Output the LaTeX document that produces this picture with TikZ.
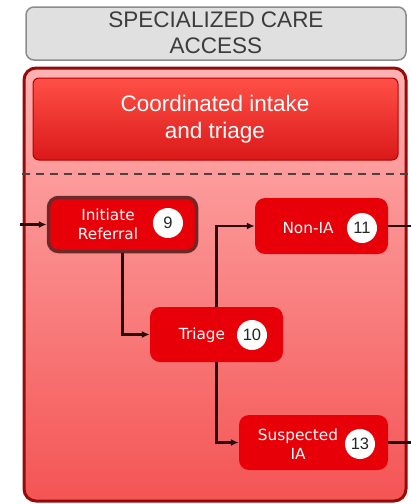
\documentclass[tikz,border=0pt]{standalone}
\usepackage{fontspec}
\setmainfont{Liberation Sans}
\newfontfamily\verd{DejaVu Sans}
\usetikzlibrary{arrows.meta}
\definecolor{nodered}{RGB}{232,0,8}
\definecolor{lanefill top}{RGB}{255,178,178}
\definecolor{lanefill bot}{RGB}{244,84,84}
\definecolor{laneborder}{RGB}{150,10,10}
\definecolor{refborder}{RGB}{110,40,40}
\definecolor{wire}{RGB}{40,12,12}
\definecolor{graytext}{RGB}{60,60,60}
\tikzset{
  stepbox/.style={fill=nodered, rounded corners=10pt, inner sep=0pt},
  boxtext/.style={text=white, font=\verd\fontsize{15.3}{19}\selectfont, align=center, inner sep=0pt},
  numdisc/.style={circle, fill=white, minimum size=30pt, inner sep=0pt,
    font=\fontsize{16.5}{16.5}\selectfont, text=black!85},
  conn/.style={draw=wire, line width=2.1pt, -{Latex[length=8pt,width=7pt]}},
  wireout/.style={draw=wire, line width=2.1pt}
}
\begin{document}
\begin{tikzpicture}[x=1pt,y=-1pt]
\useasboundingbox (0,0) rectangle (411,504);

% lane title
\draw[draw=black!45, fill=black!12, line width=1.5pt, rounded corners=8pt]
  (26,7) rectangle (406,60);
\node[text=graytext, font=\fontsize{22.5}{26}\selectfont, align=center] (title) at (216,33)
  {SPECIALIZED CARE\\ACCESS};

% lane body
\path[draw=laneborder, line width=3pt, rounded corners=12pt,
  top color=lanefill top, bottom color=lanefill bot]
  (24,68) rectangle (406,501);

% phase header
\path[draw=red!70!black, line width=1pt, rounded corners=6pt,
  top color={rgb,255:red,255;green,80;blue,70}, middle color={rgb,255:red,236;green,0;blue,20},
  bottom color={rgb,255:red,218;green,25;blue,25}]
  (33,78) rectangle (398,160);
\node[text=white, font=\fontsize{22.5}{27}\selectfont, align=center] (hdr) at (215,119)
  {Coordinated intake\\and triage};

% phase separator
\draw[draw=wire!80, line width=2pt, dash pattern=on 8pt off 6pt] (22,174) -- (411,174);

% process steps
\node[stepbox, draw=refborder, line width=3.5pt, minimum width=148pt, minimum height=54pt]
  (ref) at (122.5,224.5) {};
\node[boxtext] (reft) at (108,224) {Initiate\\Referral};
\node[numdisc] (n9) at (168,223) {9};

\node[stepbox, minimum width=133pt, minimum height=56pt] (nonia) at (321.5,226) {};
\node[boxtext] (noniat) at (308,228) {Non-IA};
\node[numdisc] (n11) at (362,228) {11};

\node[stepbox, minimum width=133pt, minimum height=55pt] (tri) at (216.5,334.5) {};
\node[boxtext] (trit) at (202,335) {Triage};
\node[numdisc] (n10) at (252,335) {10};

\node[stepbox, minimum width=149pt, minimum height=55pt] (sia) at (313.5,442.5) {};
\node[boxtext] (siat) at (298,444) {Suspected\\IA};
\node[numdisc] (n13) at (360,444) {13};

% flow
\coordinate (inlet) at (20,224.5);
\coordinate (outA) at (411,226);
\coordinate (outB) at (411,442.5);
\draw[conn] (inlet) -- (ref.west);
\draw[conn] (ref.south) |- (tri.west);
\draw[conn] (tri.north) |- (nonia.west);
\draw[conn] (tri.south) |- (sia.west);
\draw[wireout] (nonia.east) -- (outA);
\draw[wireout] (sia.east) -- (outB);
\end{tikzpicture}
\end{document}
